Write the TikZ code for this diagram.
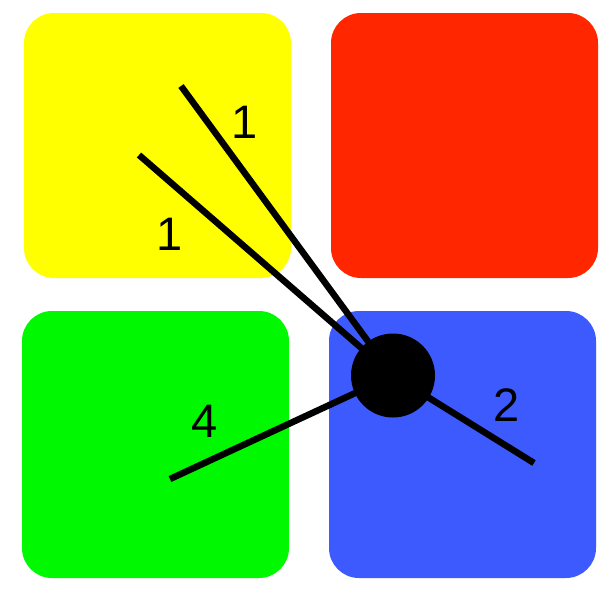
\documentclass[tikz,border=0pt]{standalone}
\usepackage{fontspec}
\setmainfont{Liberation Sans}
\definecolor{cyellow}{RGB}{255,255,0}
\definecolor{cred}{RGB}{255,38,0}
\definecolor{cgreen}{RGB}{0,248,0}
\definecolor{cblue}{RGB}{61,90,254}
\begin{document}
\begin{tikzpicture}[x=1pt,y=-1pt,
  tile/.style={rounded corners=30pt},
  edge/.style={line width=6.5pt},
  lab/.style={inner sep=0pt,font=\fontsize{47}{47}\selectfont}]
\useasboundingbox (0,0) rectangle (601,589);
\fill[tile,cyellow] (24,13) rectangle (291,278);
\fill[tile,cred] (331,13) rectangle (598,278);
\fill[tile,cgreen] (22,311) rectangle (289,578);
\fill[tile,cblue] (329,311) rectangle (596,578);
\coordinate (hub) at (393,375.5);
\coordinate (e1) at (181,86);
\coordinate (e2) at (139,155);
\coordinate (e3) at (170,479);
\coordinate (e4) at (534,463);
\draw[edge] (hub) -- (e1);
\draw[edge] (hub) -- (e2);
\draw[edge] (hub) -- (e3);
\draw[edge] (hub) -- (e4);
\node[circle,fill=black,minimum size=84pt,inner sep=0pt] (dot) at (hub) {};
\node[lab] (l1) at (245,122) {1};
\node[lab] (l2) at (170,234) {1};
\node[lab] (l3) at (205,421) {4};
\node[lab] (l4) at (507,405) {2};
\end{tikzpicture}
\end{document}
